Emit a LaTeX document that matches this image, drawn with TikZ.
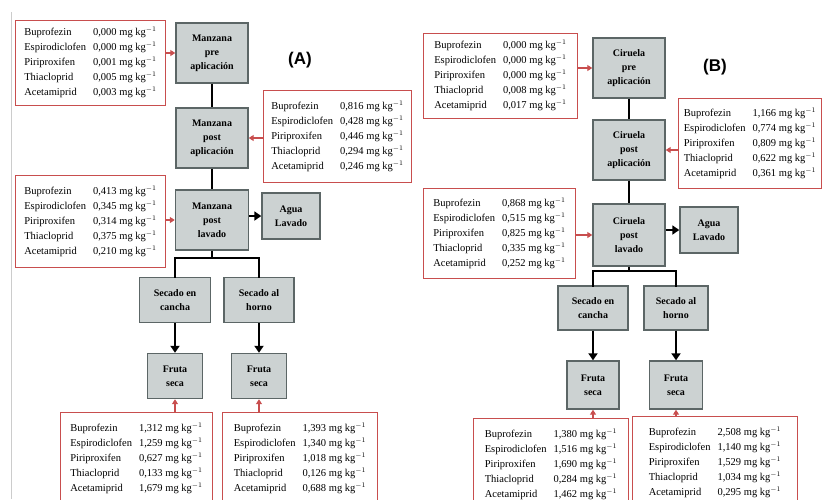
\documentclass[tikz,border=0pt]{standalone}
\usepackage{fontspec}
\setmainfont{Liberation Serif}
\setsansfont{Liberation Sans}
\usepackage{xcolor}
\usepackage{tikz}
\usetikzlibrary{arrows.meta,positioning,calc}

\definecolor{resred}{RGB}{200,78,78}
\definecolor{boxgray}{RGB}{204,210,210}
\definecolor{boxedge}{RGB}{92,102,102}

\newcommand{\residuos}[5]{%
  \begin{tabular}{@{}l@{\hspace{7pt}}l@{}}
  Buprofezin & #1 mg kg$^{-1}$\\
  Espirodiclofen & #2 mg kg$^{-1}$\\
  Piriproxifen & #3 mg kg$^{-1}$\\
  Thiacloprid & #4 mg kg$^{-1}$\\
  Acetamiprid & #5 mg kg$^{-1}$
  \end{tabular}}

\tikzset{
  proceso/.style={draw=boxedge, line width=1.4pt, fill=boxgray, align=center,
    font=\bfseries\fontsize{10}{14}\selectfont, inner sep=2pt},
  residuo/.style={draw=resred, line width=0.9pt, fill=white, anchor=north west,
    font=\fontsize{10.5}{15}\selectfont, inner sep=5pt},
  flujo/.style={line width=2.8pt, black},
  flecha/.style={flujo, -{Triangle[length=7pt,width=9pt]}},
  resflecha/.style={resred, line width=2.2pt, -{Triangle[length=5pt,width=6pt]}},
  etiqueta/.style={font=\sffamily\bfseries\fontsize{17}{20}\selectfont}
}

\begin{document}
\begin{tikzpicture}[x=1pt,y=-1pt]
\useasboundingbox (0,0) rectangle (823,499);
\draw[gray!40, line width=0.8pt] (11,12) -- (11,499);

% (A) manzana
\node[etiqueta] (labA) at (300,60) {(A)};
\node[proceso, minimum width=72, minimum height=60] (mpre) at (212,53) {Manzana\\pre\\aplicación};
\node[proceso, minimum width=72, minimum height=60] (mpost) at (212,138) {Manzana\\post\\aplicación};
\node[proceso, minimum width=73, minimum height=60] (mlav) at (212,220) {Manzana\\post\\lavado};
\node[proceso, minimum width=58, minimum height=46] (aguaA) at (291,216) {Agua\\Lavado};
\node[proceso, minimum width=71, minimum height=45] (secA1) at (175,300) {Secado en\\cancha};
\node[proceso, minimum width=70, minimum height=45] (secA2) at (259,300) {Secado al\\horno};
\node[proceso, minimum width=55, minimum height=45] (frutaA1) at (175,376) {Fruta\\seca};
\node[proceso, minimum width=55, minimum height=45] (frutaA2) at (259,376) {Fruta\\seca};
\coordinate (barA) at (212,258);

\node[residuo, minimum width=150, minimum height=82] (resApre) at (15,20) {\residuos{0,000}{0,000}{0,001}{0,005}{0,003}};
\node[residuo, minimum width=148, minimum height=92] (resApost) at (263,90) {\residuos{0,816}{0,428}{0,446}{0,294}{0,246}};
\node[residuo, minimum width=150, minimum height=92] (resAlav) at (15,175) {\residuos{0,413}{0,345}{0,314}{0,375}{0,210}};
\node[residuo, minimum width=152, minimum height=92] (resAf1) at (60,412) {\residuos{1,312}{1,259}{0,627}{0,133}{1,679}};
\node[residuo, minimum width=155, minimum height=92] (resAf2) at (222,412) {\residuos{1,393}{1,340}{1,018}{0,126}{0,688}};

\draw[flujo] (mpre) -- (mpost);
\draw[flujo] (mpost) -- (mlav);
\draw[flecha] (mlav.east |- aguaA.west) -- (aguaA.west);
\draw[flujo] (mlav.south) -- (barA);
\draw[flujo, line cap=rect] (secA1.north) |- (secA2.north |- barA) -- (secA2.north);
\draw[flecha] (secA1) -- (frutaA1);
\draw[flecha] (secA2) -- (frutaA2);

\draw[resflecha] (resApre.east |- mpre.west) -- (mpre.west);
\draw[resflecha] (resApost.west |- mpost.east) -- (mpost.east);
\draw[resflecha] (resAlav.east |- mlav.west) -- (mlav.west);
\draw[resflecha] (frutaA1.south |- resAf1.north) -- (frutaA1.south);
\draw[resflecha] (frutaA2.south |- resAf2.north) -- (frutaA2.south);

% (B) ciruela
\node[etiqueta] (labB) at (715,67) {(B)};
\node[proceso, minimum width=72, minimum height=60] (cpre) at (629,68) {Ciruela\\pre\\aplicación};
\node[proceso, minimum width=72, minimum height=60] (cpost) at (629,150) {Ciruela\\post\\aplicación};
\node[proceso, minimum width=72, minimum height=62] (clav) at (629,235) {Ciruela\\post\\lavado};
\node[proceso, minimum width=58, minimum height=46] (aguaB) at (709,230) {Agua\\Lavado};
\node[proceso, minimum width=70, minimum height=44] (secB1) at (593,308) {Secado en\\cancha};
\node[proceso, minimum width=64, minimum height=44] (secB2) at (676,308) {Secado al\\horno};
\node[proceso, minimum width=52, minimum height=48] (frutaB1) at (593,385) {Fruta\\seca};
\node[proceso, minimum width=53, minimum height=48] (frutaB2) at (676,385) {Fruta\\seca};
\coordinate (barB) at (629,271);

\node[residuo, minimum width=154, minimum height=84] (resBpre) at (423,33) {\residuos{0,000}{0,000}{0,000}{0,008}{0,017}};
\node[residuo, minimum width=143, minimum height=90] (resBpost) at (678,98) {\residuos{1,166}{0,774}{0,809}{0,622}{0,361}};
\node[residuo, minimum width=152, minimum height=90] (resBlav) at (423,188) {\residuos{0,868}{0,515}{0,825}{0,335}{0,252}};
\node[residuo, minimum width=155, minimum height=92] (resBf1) at (473,418) {\residuos{1,380}{1,516}{1,690}{0,284}{1,462}};
\node[residuo, minimum width=165, minimum height=92] (resBf2) at (632,416) {\residuos{2,508}{1,140}{1,529}{1,034}{0,295}};

\draw[flujo] (cpre) -- (cpost);
\draw[flujo] (cpost) -- (clav);
\draw[flecha] (clav.east |- aguaB.west) -- (aguaB.west);
\draw[flujo] (clav.south) -- (barB);
\draw[flujo, line cap=rect] (secB1.north) |- (secB2.north |- barB) -- (secB2.north);
\draw[flecha] (secB1) -- (frutaB1);
\draw[flecha] (secB2) -- (frutaB2);

\draw[resflecha] (resBpre.east |- cpre.west) -- (cpre.west);
\draw[resflecha] (resBpost.west |- cpost.east) -- (cpost.east);
\draw[resflecha] (resBlav.east |- clav.west) -- (clav.west);
\draw[resflecha] (frutaB1.south |- resBf1.north) -- (frutaB1.south);
\draw[resflecha] (frutaB2.south |- resBf2.north) -- (frutaB2.south);

\end{tikzpicture}
\end{document}
